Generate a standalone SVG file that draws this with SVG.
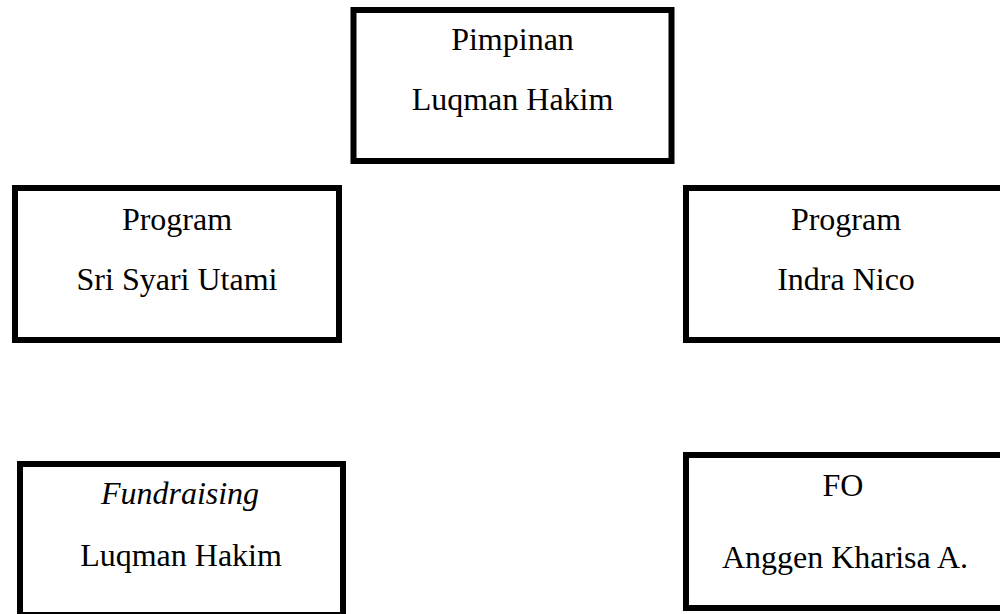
<svg xmlns="http://www.w3.org/2000/svg" width="1000" height="614" viewBox="0 0 1000 614">
<style>
.box{fill:#fff;stroke:#000;stroke-width:6}
.t{font-family:"Liberation Serif","Times New Roman",serif;font-size:32px;fill:#000;text-anchor:middle}
.i{font-style:italic}
</style>
<rect width="1000" height="614" fill="#fff"/>
<g id="connectors"></g>
<g id="pimpinan">
<rect class="box" x="353.5" y="10" width="318" height="151"/>
<text class="t" x="512.5" y="50">Pimpinan</text>
<text class="t" x="512.5" y="110">Luqman Hakim</text>
</g>
<g id="program1">
<rect class="box" x="15" y="188" width="324" height="152"/>
<text class="t" x="177" y="230">Program</text>
<text class="t" x="177" y="290">Sri Syari Utami</text>
</g>
<g id="program2">
<rect class="box" x="686" y="188" width="330" height="152"/>
<text class="t" x="846" y="230">Program</text>
<text class="t" x="846" y="290">Indra Nico</text>
</g>
<g id="fundraising">
<rect class="box" x="20" y="464" width="323" height="151"/>
<text class="t i" x="180" y="504">Fundraising</text>
<text class="t" x="181" y="566">Luqman Hakim</text>
</g>
<g id="fo">
<rect class="box" x="686" y="455" width="330" height="153"/>
<text class="t" x="843" y="496">FO</text>
<text class="t" x="845" y="568">Anggen Kharisa A.</text>
</g>
</svg>
